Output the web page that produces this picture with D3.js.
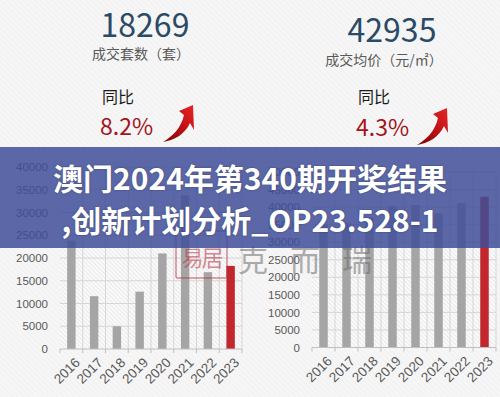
<!DOCTYPE html>
<html lang="zh">
<head>
<meta charset="utf-8">
<title>成交套数与成交均价</title>
<script src="https://cdn.jsdelivr.net/npm/d3@7"></script>
<style>
  body { margin: 0; background: #f4f4f4; }
  svg { display: block; font-family: "Noto Sans CJK SC", sans-serif; }
  .axis-y text { font-family: "Liberation Sans", sans-serif; font-size: 11.5px; fill: #595959; }
  .axis-x text { font-family: "Liberation Sans", sans-serif; font-size: 13.5px; fill: #595959; }
  .grid line { stroke: #d6d6d6; stroke-width: 1; }
  .headline { fill: #2b4a66; font-size: 32px; text-anchor: middle; }
  .sublabel { fill: #595959; font-size: 14px; text-anchor: middle; }
  .yoy-label { fill: #1a1a1a; font-size: 16px; }
  .yoy-value { fill: #a5141c; font-size: 23px; }
  .banner-text { fill: #fff; font-size: 30px; font-weight: 700; text-anchor: middle; }
</style>
</head>
<body>
<svg id="chart" width="500" height="397"></svg>
<script>
// data
const years = ["2016", "2017", "2018", "2019", "2020", "2021", "2022", "2023"]
const dealCounts = [23800, 11600, 5000, 12600, 21000, 33800, 16884, 18269]
const avgPrices = [35000, 35400, 37000, 40300, 40600, 38200, 41165, 42935]
const dealTicks = d3.range(0, 40001, 5000)
const priceTicks = d3.range(0, 50001, 5000)

const headlineValues = ["18269", "42935"]
const headlineLabels = ["成交套数（套）", "成交均价（元/㎡）"]
const yoyValues = ["8.2%", "4.3%"]
const bannerLines = ["澳门2024年第340期开奖结果", ",创新计划分析_OP23.528-1"]
const watermarkChars = ["克", "而", "瑞"]

const svg = d3.select("#chart")
const defs = svg.append("defs")

// diagonal hatching, page and plot area
function hatch(id, color, gap) {
  defs.append("pattern")
      .attr("id", id)
      .attr("width", gap).attr("height", gap)
      .attr("patternUnits", "userSpaceOnUse")
      .attr("patternTransform", "rotate(-45)")
    .append("line")
      .attr("x1", 0).attr("y1", 0).attr("x2", 0).attr("y2", gap)
      .attr("stroke", color).attr("stroke-width", 1)
}
hatch("pageHatch", "#ebebeb", 4)
hatch("plotHatch", "#d9d9d9", 3)

const arrowGrad = defs.append("linearGradient")
    .attr("id", "arrowGrad").attr("x1", "0").attr("y1", "1").attr("x2", "1").attr("y2", "0")
arrowGrad.append("stop").attr("offset", "0%").attr("stop-color", "#7a0000")
arrowGrad.append("stop").attr("offset", "60%").attr("stop-color", "#c8141a")
arrowGrad.append("stop").attr("offset", "100%").attr("stop-color", "#e52620")

svg.append("rect").attr("width", 500).attr("height", 397).attr("fill", "#f6f6f6")
svg.append("rect").attr("width", 500).attr("height", 397).attr("fill", "url(#pageHatch)")

// headline block
const panels = [
  { cx: 145, base: 37, subCx: 141, subBase: 59, yoyX: 101, arrow: [163, 142] },
  { cx: 392, base: 42, subCx: 384, subBase: 65, yoyX: 357, arrow: [417, 145] }
]

panels.forEach((p, i) => {
  svg.append("text").attr("class", "headline")
      .attr("x", p.cx).attr("y", p.base).text(headlineValues[i])
  svg.append("text").attr("class", "sublabel")
      .attr("x", p.subCx).attr("y", p.subBase).text(headlineLabels[i])
  svg.append("text").attr("class", "yoy-label")
      .attr("x", p.yoyX + 1).attr("y", 103).text("同比")
  svg.append("text").attr("class", "yoy-value")
      .attr("x", p.yoyX - 1).attr("y", 135 - (i === 0 ? 0 : -1)).text(yoyValues[i])
  svg.append("path")
      .attr("transform", "translate(" + p.arrow[0] + "," + p.arrow[1] + ")")
      .attr("d", "M0,0 C10,-6 18,-14 21,-27 L16,-31 L30,-37 L31,-12 L27,-19 C22,-8 12,-2 0,0 Z")
      .attr("fill", "url(#arrowGrad)")
})

// bar charts
const charts = [
  { values: dealCounts, ticks: dealTicks, max: 40000, x0: 60, x1: 242, y0: 349, y1: 167 },
  { values: avgPrices, ticks: priceTicks, max: 50000, x0: 312, x1: 496, y0: 347.5, y1: 172 }
]

charts.forEach(c => {
  const x = d3.scaleBand().domain(years).range([c.x0, c.x1]).padding(0)
  const y = d3.scaleLinear().domain([0, c.max]).range([c.y0, c.y1])
  const g = svg.append("g")

  g.append("rect")
      .attr("x", c.x0).attr("y", c.y1)
      .attr("width", c.x1 - c.x0).attr("height", c.y0 - c.y1)
      .attr("fill", "#fafafa")
  g.append("rect")
      .attr("x", c.x0).attr("y", c.y1)
      .attr("width", c.x1 - c.x0).attr("height", c.y0 - c.y1)
      .attr("fill", "url(#plotHatch)")

  const grid = g.append("g").attr("class", "grid")
  grid.selectAll(".h").data(c.ticks.slice(1)).join("line")
      .attr("x1", c.x0).attr("x2", c.x1)
      .attr("y1", d => y(d)).attr("y2", d => y(d))
  grid.selectAll(".v").data(years.slice(1).concat(["end"])).join("line")
      .attr("x1", d => d === "end" ? c.x1 : x(d)).attr("x2", d => d === "end" ? c.x1 : x(d))
      .attr("y1", c.y1).attr("y2", c.y0)

  const barW = x.bandwidth() * 0.37
  g.selectAll(".bar").data(c.values).join("rect")
      .attr("x", (d, i) => x(years[i]) + (x.bandwidth() - barW) / 2)
      .attr("y", d => y(d))
      .attr("width", barW)
      .attr("height", d => c.y0 - y(d))
      .attr("fill", (d, i) => i === years.length - 1 ? "#c1272d" : "#a5a5a5")

  g.append("g").attr("class", "axis-y")
      .attr("transform", "translate(" + c.x0 + ",0)")
      .call(d3.axisLeft(y).tickValues(c.ticks).tickFormat(d3.format("d")).tickSize(0).tickPadding(12))
      .call(a => a.select(".domain").remove())

  // baseline and boundary ticks
  g.append("line")
      .attr("x1", c.x0).attr("x2", c.x1).attr("y1", c.y0).attr("y2", c.y0)
      .attr("stroke", "#bfbfbf")
  g.selectAll(".bt").data(years.concat(["end"])).join("line")
      .attr("x1", d => d === "end" ? c.x1 : x(d)).attr("x2", d => d === "end" ? c.x1 : x(d))
      .attr("y1", c.y0).attr("y2", c.y0 + 4)
      .attr("stroke", "#bfbfbf")

  g.append("g").attr("class", "axis-x")
      .selectAll("text").data(years).join("text")
      .attr("transform", d => "translate(" + (x(d) + x.bandwidth() / 2 + 6) + "," + (c.y0 + 11) + ") rotate(-45)")
      .attr("text-anchor", "end")
      .attr("dy", "0.35em")
      .text(d => d)
})

// watermark
const wm = svg.append("g").attr("opacity", 0.55)
wm.append("rect")
    .attr("x", 176).attr("y", 231).attr("width", 51).attr("height", 47).attr("rx", 2)
    .attr("fill", "none").attr("stroke", "#b8303f").attr("stroke-width", 1.5)
wm.append("text")
    .attr("x", 201.5).attr("y", 266).attr("text-anchor", "middle")
    .attr("font-size", 22).attr("fill", "#b8303f").attr("letter-spacing", -2)
    .text("易居")
wm.selectAll(".wc").data(watermarkChars).join("text")
    .attr("x", (d, i) => 238 + i * 52).attr("y", 271)
    .attr("font-size", 30).attr("fill", "#6e6e6e")
    .text(d => d)

// banner overlay
svg.append("rect")
    .attr("x", 0).attr("y", 147).attr("width", 500).attr("height", 101)
    .attr("fill", "rgba(63,78,153,0.85)")
svg.selectAll(".banner-text").data(bannerLines).join("text")
    .attr("class", "banner-text")
    .attr("x", 250).attr("y", (d, i) => 190 + i * 42)
    .style("text-shadow", "0 0 2px rgba(0,0,0,0.35)")
    .text(d => d)
</script>
</body>
</html>
